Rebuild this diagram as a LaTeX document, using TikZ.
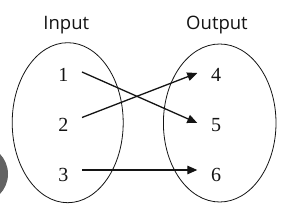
\documentclass[tikz,border=0pt]{standalone}
\usepackage{fontspec}
\setmainfont{Liberation Serif}
\newfontfamily\labfont{Open Sans}
\usepackage{tikz}
\usetikzlibrary{arrows.meta,shapes.geometric}
\definecolor{inkblack}{RGB}{20,20,20}
\definecolor{dotgray}{RGB}{98,98,98}

\begin{document}
\begin{tikzpicture}[x=1pt,y=-1pt,
    setbox/.style={ellipse,draw=inkblack,line width=.8pt,inner sep=0pt},
    num/.style={font=\fontsize{20}{22}\selectfont,text=inkblack,inner sep=0pt,minimum width=37pt},
    setlab/.style={font=\labfont\fontsize{18.5}{20}\selectfont,text=inkblack},
    maparrow/.style={-{Triangle[length=10pt,width=8.5pt]},line width=1.3pt,draw=inkblack}]
    \useasboundingbox (0,0) rectangle (295,213);
    \fill[white] (0,0) rectangle (295,213);
    % the two sets
    \node[setbox,minimum width=111pt,minimum height=160pt] (inset) at (67.7,122.7) {};
    \node[setbox,minimum width=112.6pt,minimum height=158pt] (outset) at (219.7,123) {};
    \node[setlab] (inlab) at (66.3,25) {Input};
    \node[setlab] (outlab) at (217,25) {Output};
    % elements
    \node[num] (n1) at (63.3,75) {1};
    \node[num] (n2) at (63.3,125) {2};
    \node[num] (n3) at (63.3,174.5) {3};
    \node[num] (n4) at (216,75) {4};
    \node[num] (n5) at (216,125) {5};
    \node[num] (n6) at (216,174.5) {6};
    % mapping
    \draw[maparrow] ([yshift=3pt]n1.east) -- ([yshift=2pt]n5.west);
    \draw[maparrow] ([yshift=7.5pt]n2.east) -- ([yshift=2pt]n4.west);
    \draw[maparrow] ([yshift=4.5pt]n3.east) -- ([yshift=4.5pt]n6.west);
    % grey dot cut at the left edge
    \begin{scope}
      \clip (0,0) rectangle (295,213);
      \fill[dotgray] (-21,174) circle[radius=29];
    \end{scope}
\end{tikzpicture}
\end{document}
